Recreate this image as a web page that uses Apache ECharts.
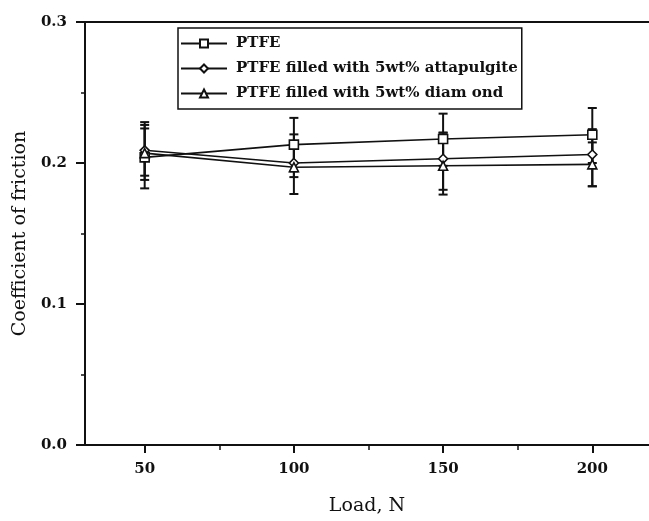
<!DOCTYPE html>
<html>
<head>
<meta charset="utf-8">
<script src="https://cdn.jsdelivr.net/npm/echarts@6/dist/echarts.min.js"></script>
<style>html,body{margin:0;padding:0;background:#fff}#c{width:649px;height:521px}</style>
</head>
<body>
<div id="c"></div>
<script>
var loads = [50, 100, 150, 200];
var seriesNames = ['PTFE', 'PTFE filled with 5wt% attapulgite', 'PTFE filled with 5wt% diam ond'];
var ptfe = [0.204, 0.213, 0.217, 0.220];
var ptfeLow = [0.182, 0.194, 0.198, 0.200];
var ptfeHigh = [0.2245, 0.232, 0.235, 0.239];
var attap = [0.209, 0.200, 0.203, 0.206];
var attapLow = [0.188, 0.190, 0.181, 0.1835];
var attapHigh = [0.229, 0.210, 0.2215, 0.224];
var diam = [0.207, 0.197, 0.198, 0.199];
var diamLow = [0.191, 0.178, 0.1776, 0.1835];
var diamHigh = [0.227, 0.2203, 0.2215, 0.2146];
var xTicks = [50, 100, 150, 200];
var xMinorTicks = [75, 125, 175];

var FONT = 'DejaVu Serif';
function pts(v){ return loads.map(function(x,i){ return [x, v[i]]; }); }
function errs(lo, hi){ return loads.map(function(x,i){ return [x, lo[i], hi[i]]; }); }
function errRender(params, api){
  var x = api.value(0), lo = api.value(1), hi = api.value(2);
  var p1 = api.coord([x, hi]), p2 = api.coord([x, lo]);
  var w = 4.5;
  var st = {stroke:'#111', lineWidth:2};
  return {type:'group', children:[
    {type:'line', shape:{x1:p1[0], y1:p1[1], x2:p2[0], y2:p2[1]}, style:st},
    {type:'line', shape:{x1:p1[0]-w, y1:p1[1], x2:p1[0]+w, y2:p1[1]}, style:st},
    {type:'line', shape:{x1:p2[0]-w, y1:p2[1], x2:p2[0]+w, y2:p2[1]}, style:st}
  ]};
}
function lineSeries(name, data, sym){
  return {type:'line', name:name, data:pts(data), symbol:sym, symbolSize:9, showSymbol:true,
    lineStyle:{color:'#111', width:1.6}, itemStyle:{color:'#fff', borderColor:'#111', borderWidth:1.6},
    z:3, animation:false};
}
function errSeries(lo, hi){
  return {type:'custom', renderItem:errRender, data:errs(lo,hi), z:2, animation:false, silent:true};
}
var chart = echarts.init(document.getElementById('c'), null, {renderer:'canvas'});
chart.setOption({
  animation:false,
  backgroundColor:'#fff',
  grid:{left:85, right:0, top:22, bottom:72},
  legend:{
    orient:'vertical', left:178, top:28,
    padding:[8,4,8,2], itemGap:10, itemWidth:46, itemHeight:10,
    borderColor:'#111', borderWidth:1.5,
    textStyle:{fontFamily:FONT, fontSize:15, fontWeight:'bold', color:'#111', lineHeight:14.5, padding:[0,0,0,4]},
    data:seriesNames
  },
  xAxis:[{
    type:'value', min:30, max:219,
    axisLine:{show:true, lineStyle:{color:'#111', width:2}},
    axisTick:{show:true, customValues:xTicks, length:8, lineStyle:{color:'#111', width:2}},
    axisLabel:{customValues:xTicks, fontFamily:FONT, fontSize:15, fontWeight:'bold', color:'#111', margin:17},
    splitLine:{show:false},
    name:'Load, N', nameLocation:'middle', nameGap:52,
    nameTextStyle:{fontFamily:FONT, fontSize:19, color:'#111'}
  },{
    type:'value', min:30, max:219, position:'bottom',
    axisLine:{show:false},
    axisTick:{show:true, customValues:xMinorTicks, length:5, lineStyle:{color:'#111', width:1.5}},
    axisLabel:{show:false}, splitLine:{show:false}
  },{
    type:'value', min:30, max:219, position:'top',
    axisLine:{show:true, lineStyle:{color:'#111', width:2}},
    axisTick:{show:false}, axisLabel:{show:false}, splitLine:{show:false}
  }],
  yAxis:{
    type:'value', min:0, max:0.3, interval:0.1,
    axisLine:{show:true, lineStyle:{color:'#111', width:2}},
    axisTick:{show:true, length:9, lineStyle:{color:'#111', width:2}},
    minorTick:{show:true, splitNumber:2, length:4, lineStyle:{color:'#111', width:1.5}},
    axisLabel:{fontFamily:FONT, fontSize:15, fontWeight:'bold', color:'#111', margin:18,
      formatter:function(v){ return v.toFixed(1); }},
    splitLine:{show:false},
    name:'Coefficient of friction', nameLocation:'middle', nameGap:51, nameRotate:90,
    nameTextStyle:{fontFamily:FONT, fontSize:19, color:'#111'}
  },
  series:[
    errSeries(ptfeLow, ptfeHigh),
    errSeries(attapLow, attapHigh),
    errSeries(diamLow, diamHigh),
    lineSeries(seriesNames[0], ptfe, 'rect'),
    lineSeries(seriesNames[1], attap, 'diamond'),
    lineSeries(seriesNames[2], diam, 'triangle')
  ]
});
</script>
</body>
</html>
